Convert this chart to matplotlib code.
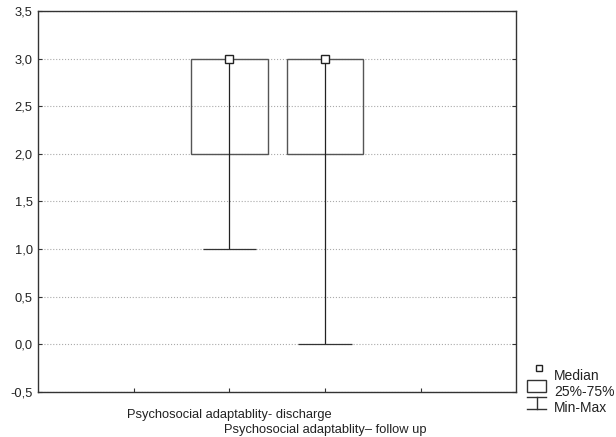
import matplotlib
matplotlib.use('Agg')
import matplotlib.pyplot as plt
from matplotlib.patches import Rectangle
from matplotlib.lines import Line2D
from matplotlib.ticker import FuncFormatter

plt.rcParams['font.family'] = ['Liberation Sans', 'DejaVu Sans']

labels = ['Psychosocial adaptablity- discharge', 'Psychosocial adaptablity\u2013 follow up']
positions = [2, 3]
medians = [3.0, 3.0]
q1 = [2.0, 2.0]
q3 = [3.0, 3.0]
mins = [1.0, 0.0]
maxs = [3.0, 3.0]

fig = plt.figure(figsize=(6.16, 4.37), dpi=100)
ax = fig.add_axes([0.062, 0.103, 0.776, 0.872])

box_w = 0.8
cap_w = 0.56
edge = '#555555'
fs = 9.3

ax.vlines(positions, mins, maxs, color='#222222', lw=0.9, zorder=3)
ax.hlines(mins, [p - cap_w / 2 for p in positions], [p + cap_w / 2 for p in positions],
          color='#333333', lw=0.9, zorder=3)
ax.bar(positions, [b - a for a, b in zip(q1, q3)], bottom=q1, width=box_w,
       facecolor='none', edgecolor=edge, lw=1.0, zorder=2)
ax.plot(positions, medians, ls='none', marker='s', ms=6, mfc='white', mec='#222222',
        mew=1.0, zorder=4)

ax.set_xlim(0, 5)
ax.set_ylim(-0.5, 3.5)
ax.set_yticks([-0.5, 0, 0.5, 1.0, 1.5, 2.0, 2.5, 3.0, 3.5])
ax.yaxis.set_major_formatter(FuncFormatter(lambda v, p: f'{v:.1f}'.replace('.', ',')))
ax.set_xticks([1, 2, 3, 4])
ax.set_xticklabels([])
ax.tick_params(direction='in', length=3, width=0.8, colors='#333333', labelsize=fs,
               labelcolor='#222222', right=True, pad=4)
ax.grid(axis='y', ls=':', color='#aaaaaa', lw=0.8)
ax.set_axisbelow(True)
for s in ax.spines.values():
    s.set_color('#333333')
    s.set_linewidth(1.0)

# staggered category labels
for i, (p, lab) in enumerate(zip(positions, labels)):
    ax.text(p, -0.675 - i * 0.165, lab, ha='center', va='top', fontsize=fs,
            color='#222222', transform=ax.transData, clip_on=False)

# legend drawn at figure level (pixel coords)
def fx(px):
    return px / 616

def fy(py):
    return 1 - py / 437

fig.add_artist(Rectangle((fx(536), fy(371)), fx(6), 6 / 437, transform=fig.transFigure,
                         facecolor='white', edgecolor='#222222', lw=1.0))
fig.add_artist(Rectangle((fx(527), fy(392)), fx(19), 12 / 437, transform=fig.transFigure,
                         facecolor='white', edgecolor='#333333', lw=1.0))
fig.add_artist(Line2D([fx(527), fx(546)], [fy(397), fy(397)], transform=fig.transFigure,
                      color='#333333', lw=1.0))
fig.add_artist(Line2D([fx(537), fx(537)], [fy(397), fy(409)], transform=fig.transFigure,
                      color='#333333', lw=1.0))
fig.add_artist(Line2D([fx(527), fx(546)], [fy(409), fy(409)], transform=fig.transFigure,
                      color='#333333', lw=1.0))
for ty, t in [(376, 'Median'), (392, '25%-75%'), (408, 'Min-Max')]:
    fig.text(fx(554), fy(ty), t, ha='left', va='center', fontsize=10, color='#222222')

fig.savefig('out.png', dpi=100)
